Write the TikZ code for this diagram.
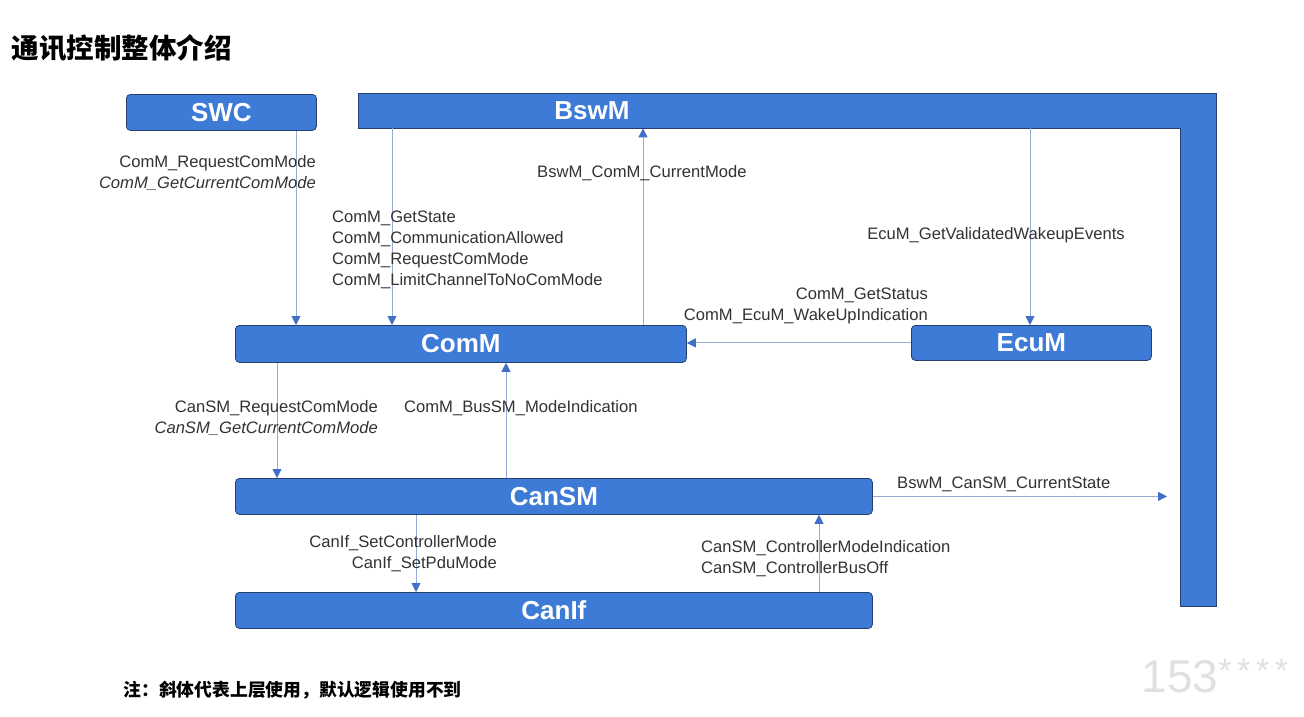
\documentclass[tikz,border=0pt]{standalone}
\usepackage{fontspec}
\setmainfont{Liberation Sans}
\newfontfamily\cjk{Noto Sans CJK SC}
\usetikzlibrary{arrows.meta,calc}
\definecolor{boxfill}{RGB}{62,123,214}
\definecolor{boxline}{RGB}{36,64,110}
\definecolor{linec}{RGB}{150,172,212}
\definecolor{tipc}{RGB}{64,110,200}
\definecolor{txtc}{RGB}{50,50,50}

\begin{document}
\begin{tikzpicture}[x=1pt,y=-1pt,
    module/.style={draw=boxline, line width=0.8pt, fill=boxfill, rounded corners=4pt,
      anchor=north west, inner sep=0pt, minimum height=36pt, text=white,
      font=\bfseries\fontsize{26}{26}\selectfont},
    conn/.style={draw=linec, line width=0.9pt, -{Triangle[length=9pt,width=9pt,color=tipc]}},
    api/.style={text=txtc, font=\fontsize{16.6}{21}\selectfont, inner sep=0pt},
  ]
  \useasboundingbox (0,0) rectangle (1304,717);

  % title and note
  \node[anchor=west, font=\cjk\bfseries\fontsize{27.5}{27.5}\selectfont] (title) at (8,48) {通讯控制整体介绍};
  \node[anchor=west, font=\cjk\bfseries\fontsize{17.8}{17.8}\selectfont] (note) at (120,690) {注：斜体代表上层使用，默认逻辑使用不到};
  \node[anchor=west, text=black!12, font=\fontsize{46}{46}\selectfont] (mark) at (1138,676)
    {153\raisebox{10pt}{\fontsize{34}{34}\selectfont *\,*\,*\,*}};

  % BswM frame (L shape)
  \fill[boxfill, draw=boxline, line width=0.8pt]
    (358,93) -- (1216,93) -- (1216,606) -- (1180,606) -- (1180,128) -- (358,128) -- cycle;
  \node[anchor=north west, minimum width=822pt, minimum height=35pt, inner sep=0pt] (bswm) at (358,93) {};
  \node[anchor=north west, minimum width=36pt, minimum height=478pt, inner sep=0pt] (bswmr) at (1180,128) {};
  \node[text=white, font=\bfseries\fontsize{26}{26}\selectfont] (bswmlabel) at (bswm.center -| 592,0) {BswM};

  % modules
  \node[module, minimum width=190pt] (swc) at (126,94) {SWC};
  \node[module, minimum width=451pt, minimum height=37pt] (comm) at (235,325) {ComM};
  \node[module, minimum width=240pt, minimum height=35pt] (ecum) at (911,325) {EcuM};
  \node[module, minimum width=637pt] (cansm) at (235,478) {CanSM};
  \node[module, minimum width=637pt] (canif) at (235,592) {CanIf};

  % connectors
  \draw[conn] (296,0 |- swc.south) -- (296,0 |- comm.north);
  \draw[conn] (392,0 |- bswm.south) -- (392,0 |- comm.north);
  \draw[conn] (643,0 |- comm.north) -- (643,0 |- bswm.south);
  \draw[conn] (1030,0 |- bswm.south) -- (1030,0 |- ecum.north);
  \draw[conn] (ecum.west) -- (ecum.west -| comm.east);
  \draw[conn] (277,0 |- comm.south) -- (277,0 |- cansm.north);
  \draw[conn] (506,0 |- cansm.north) -- (506,0 |- comm.south);
  \draw[conn] (cansm.east) -- ([xshift=-13pt]cansm.east -| bswmr.west);
  \draw[conn] (416,0 |- cansm.south) -- (416,0 |- canif.north);
  \draw[conn] (819,0 |- canif.north) -- (819,0 |- cansm.south);

  % interface labels
  \node[api, anchor=east, align=right] (swcapi) at (316,173)
    {ComM\_RequestComMode\\{\itshape ComM\_GetCurrentComMode}};
  \node[api, anchor=west, align=left] (bswmapi) at (332,249.5)
    {ComM\_GetState\\ComM\_CommunicationAllowed\\ComM\_RequestComMode\\ComM\_LimitChannelToNoComMode};
  \node[api, anchor=west] (commbswm) at (537,173) {BswM\_ComM\_CurrentMode};
  \node[api] (ecumapi) at (996,235) {EcuM\_GetValidatedWakeupEvents};
  \node[api, anchor=east, align=right] (ecumcomm) at (928,306)
    {ComM\_GetStatus\\ComM\_EcuM\_WakeUpIndication};
  \node[api, anchor=east, align=right] (commcansm) at (378,418)
    {CanSM\_RequestComMode\\{\itshape CanSM\_GetCurrentComMode}};
  \node[api, anchor=west] (cansmcomm) at (404,408) {ComM\_BusSM\_ModeIndication};
  \node[api, anchor=west] (cansmbswm) at (897,484) {BswM\_CanSM\_CurrentState};
  \node[api, anchor=east, align=right] (cansmcanif) at (497,553.5)
    {CanIf\_SetControllerMode\\CanIf\_SetPduMode};
  \node[api, anchor=west, align=left] (canifcansm) at (701,558.5)
    {CanSM\_ControllerModeIndication\\CanSM\_ControllerBusOff};
\end{tikzpicture}
\end{document}
